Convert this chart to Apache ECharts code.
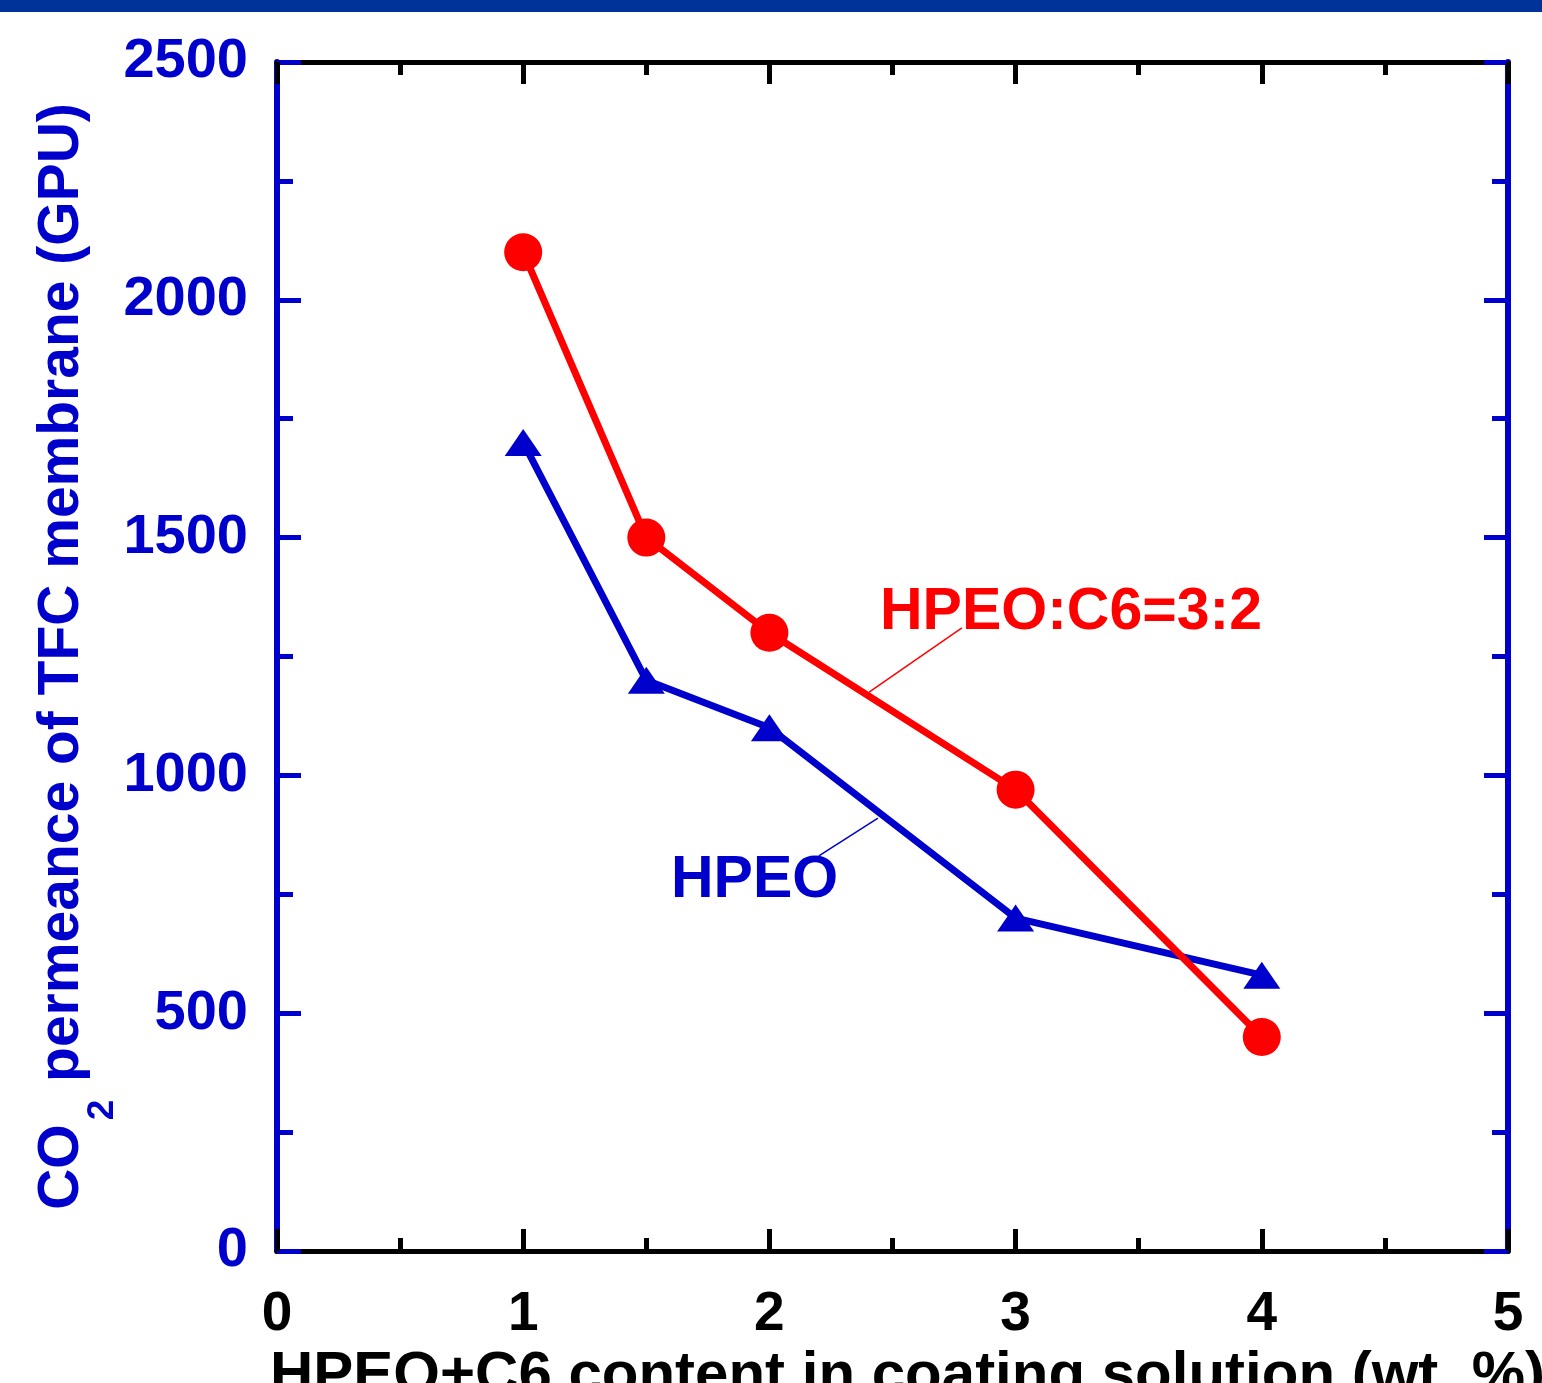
<!DOCTYPE html>
<html>
<head>
<meta charset="utf-8">
<script src="https://cdn.jsdelivr.net/npm/echarts@6/dist/echarts.min.js"></script>
<style>
html,body{margin:0;padding:0;background:#fff;}
#c{width:1542px;height:1383px;}
</style>
</head>
<body>
<div id="c"></div>
<script>
const xContent = [1, 1.5, 2, 3, 4];
const hpeoC6 = [2100, 1500, 1300, 970, 450];
const hpeo = [1700, 1200, 1100, 700, 580];
const xTicks = [0, 1, 2, 3, 4, 5];
const yTicks = [0, 500, 1000, 1500, 2000, 2500];
const redLeader = [[2.405, 1175], [2.782, 1310]];
const blueLeader = [[2.201, 831], [2.441, 910]];

const FF = '"Liberation Sans", Arial, Helvetica, sans-serif';
const BLUE = '#0000CC';
const RED = '#FF0000';

const chart = echarts.init(document.getElementById('c'), null, {renderer: 'canvas'});

function xAx(pos, showLabel) {
  return {
    type: 'value', position: pos, min: xTicks[0], max: xTicks[xTicks.length - 1], interval: 1,
    axisLine: {show: true, onZero: false, lineStyle: {color: '#000', width: 5}},
    axisTick: {show: true, inside: true, length: 22, lineStyle: {color: '#000', width: 5}},
    minorTick: {show: true, splitNumber: 2, length: 13, lineStyle: {color: '#000', width: 5}},
    splitLine: {show: false}, minorSplitLine: {show: false},
    axisLabel: {show: showLabel, color: '#000', fontFamily: FF, fontWeight: 'bold', fontSize: 55, margin: 36,
                formatter: v => String(v)},
    name: showLabel ? 'HPEO+C6 content in coating solution (wt. %)' : '',
    nameLocation: 'middle', nameGap: 95, nameMoveOverlap: false,
    nameTextStyle: {color: '#000', fontFamily: FF, fontWeight: 'bold', fontSize: 60, padding: [0, 0, 0, 30]}
  };
}
function yAx(pos, showLabel) {
  return {
    type: 'value', position: pos, min: yTicks[0], max: yTicks[yTicks.length - 1], interval: 500,
    axisLine: {show: true, onZero: false, lineStyle: {color: BLUE, width: 6}},
    axisTick: {show: true, inside: true, length: 24, lineStyle: {color: BLUE, width: 5}},
    minorTick: {show: true, splitNumber: 2, length: 16, lineStyle: {color: BLUE, width: 5}},
    splitLine: {show: false}, minorSplitLine: {show: false},
    axisLabel: {show: showLabel, color: BLUE, fontFamily: FF, fontWeight: 'bold', fontSize: 56, margin: 29,
                formatter: v => String(v)},
    name: showLabel ? '{a|CO}{s|2}{a| permeance of TFC membrane (GPU)}' : '',
    nameLocation: 'middle', nameRotate: 90, nameGap: 181, nameMoveOverlap: false,
    nameTextStyle: {
      color: BLUE, fontFamily: FF, fontWeight: 'bold', fontSize: 57,
      rich: {
        a: {color: BLUE, fontFamily: FF, fontWeight: 'bold', fontSize: 57, lineHeight: 62, verticalAlign: 'top'},
        s: {color: BLUE, fontFamily: FF, fontWeight: 'bold', fontSize: 37, lineHeight: 37, verticalAlign: 'top', padding: [50, 2, 0, 4]}
      }
    }
  };
}

function zip(xs, ys) { return xs.map((x, i) => [x, ys[i]]); }

chart.setOption({
  animation: false,
  backgroundColor: '#fff',
  grid: {left: 277, right: 34, top: 62, bottom: 132, containLabel: false, outerBoundsMode: 'none'},
  xAxis: [xAx('bottom', true), xAx('top', false)],
  yAxis: [yAx('left', true), yAx('right', false)],
  series: [
    {
      name: 'HPEO', type: 'line', xAxisIndex: 0, yAxisIndex: 0,
      data: zip(xContent, hpeo),
      symbol: 'triangle', symbolSize: [37, 27],
      lineStyle: {color: BLUE, width: 7}, itemStyle: {color: BLUE},
      z: 3,
      markLine: {
        silent: true, symbol: 'none', label: {show: false},
        lineStyle: {color: BLUE, width: 1.5, type: 'solid'},
        data: [[{coord: blueLeader[0]}, {coord: blueLeader[1]}]]
      }
    },
    {
      name: 'HPEO:C6=3:2', type: 'line', xAxisIndex: 0, yAxisIndex: 0,
      data: zip(xContent, hpeoC6),
      symbol: 'circle', symbolSize: 38,
      lineStyle: {color: RED, width: 7}, itemStyle: {color: RED},
      z: 4,
      markLine: {
        silent: true, symbol: 'none', label: {show: false},
        lineStyle: {color: RED, width: 1.5, type: 'solid'},
        data: [[{coord: redLeader[0]}, {coord: redLeader[1]}]]
      }
    }
  ],
  graphic: [
    {type: 'rect', left: 0, top: 0, shape: {width: 1542, height: 12}, style: {fill: '#003399'}, z: 10},
    {type: 'text', left: 880, top: 583, style: {text: 'HPEO:C6=3:2', fill: RED, font: 'bold 59px ' + FF}, z: 10},
    {type: 'text', left: 671, top: 851, style: {text: 'HPEO', fill: BLUE, font: 'bold 59px ' + FF}, z: 10}
  ]
});
</script>
</body>
</html>
